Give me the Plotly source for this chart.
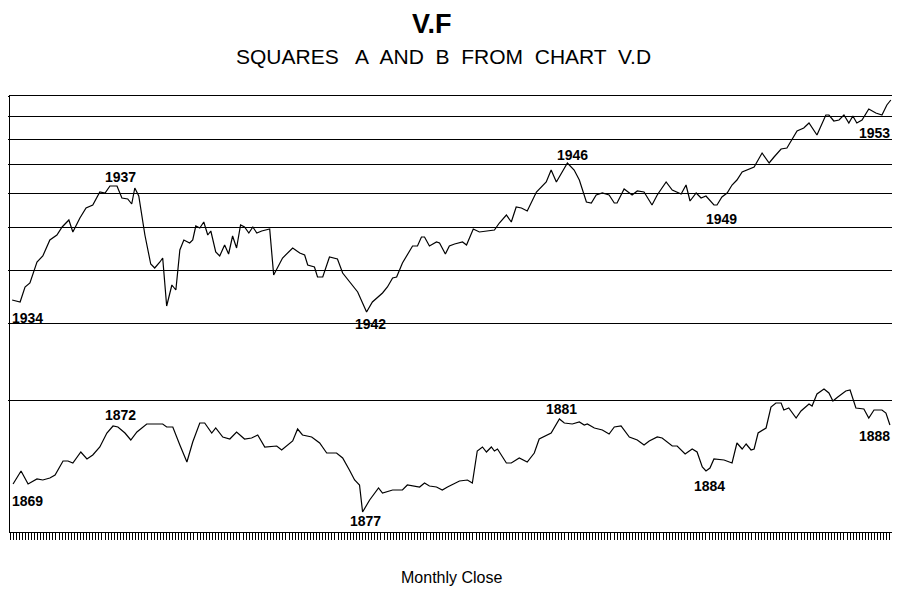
import plotly.graph_objects as go

# months from start of the square, and monthly close in chart units
months_a = [0.7, 3.3, 4.9, 6.5, 8.8, 10.7, 13, 15.3, 17, 19.2, 20.5, 22.8, 24.8, 27, 29.3, 31, 32.6, 34.9, 36.5, 38.4,
            39.7, 40.7, 42, 44, 45.9, 47.2, 48.9, 49.8, 51.1, 52.8, 54.1, 55.4, 56.7, 58.6, 59.6, 60.6, 61.9, 63.2, 64.5, 65.5,
            67.1, 68.4, 70, 71.3, 72.6, 73.9, 75.2, 76.5, 77.9, 79.2, 80.5, 82.1, 84.7, 86, 88.9, 92.2, 94.5, 96.1, 97.1, 99.3,
            100.3, 102, 104.2, 106.8, 108.5, 110.7, 113.4, 116.3, 118.2, 121.5, 123.1, 124.8, 126.1, 128, 131.3, 132.9, 134.2, 135.2, 136.8, 139.1,
            140.1, 142, 143.3, 145, 146.6, 147.6, 148.9, 151.1, 153.1, 156.4, 158, 159.6, 161.9, 163.5, 165.1, 166.8, 168.7, 171.7, 174.9, 176.5,
            178.2, 181.8, 184, 185.7, 188, 189.6, 191.2, 193.2, 195.4, 197.1, 198, 200.3, 202.9, 204.6, 206.8, 209.4, 211.1, 214, 216, 218.9,
            220.5, 221.8, 223.8, 225.4, 227, 229.6, 230.6, 232.2, 233.9, 235.5, 237.1, 238.8, 242.7, 245.3, 247.6, 249.2, 251.5, 253.4, 255, 256.7,
            258.9, 260.6, 263.2, 266.1, 267.1, 268.7, 270.4, 272, 273.6, 274.9, 276.2, 277.9, 280.1, 282.4, 284.4, 286, 287.3]
close_a = [116, 115, 122.5, 124.5, 135, 138, 146, 148.5, 152.5, 156, 150, 157, 162, 163.5, 170, 169.5, 173, 173, 167, 166.5,
           164, 172, 168, 148.5, 134, 132, 135, 137, 113, 123.5, 121, 141, 146, 144.5, 146, 153, 152, 155, 148.5, 150.5,
           140, 138, 143.5, 139, 148, 142, 153.5, 152.5, 149.5, 152.5, 149.5, 150.5, 151.5, 128.5, 137, 142, 139.5, 138.5, 133.5, 132.5,
           127.5, 127.5, 137.5, 136.5, 129.5, 125, 120, 110, 115, 119.5, 122.5, 127, 127.5, 134.5, 143, 143, 147.5, 147.5, 143, 145,
           144.5, 139, 143, 144, 144.5, 145, 143.5, 151.5, 150, 150.5, 151, 154.5, 158.5, 155, 162.5, 162, 160.5, 170, 175, 181,
           175, 184.5, 181, 176, 165, 164.5, 168.5, 169.5, 168.5, 164.5, 164.5, 171.5, 168.5, 170.5, 170, 163.5, 168.5, 175, 171, 169,
           173.5, 165.5, 169.5, 167, 168, 163.5, 163.5, 167.5, 169.5, 173.5, 176, 180, 182.5, 189.5, 184.5, 187.5, 191.5, 192, 196, 200.5,
           202, 204.5, 198.5, 208.5, 208.5, 205.5, 206, 208.5, 204.5, 208, 204.5, 206, 211.5, 209.5, 208.5, 213.5, 216]

months_b = [1, 3.6, 5.9, 8.8, 10.7, 13, 14.7, 17.3, 18.9, 20.5, 23.1, 25.1, 27, 29.3, 31.6, 33.6, 35.2, 37.5, 39.4, 41.4,
            44.6, 46.6, 49.8, 51.1, 53.1, 55.4, 57.7, 59.6, 61.9, 63.5, 65.8, 67.1, 69.4, 71.7, 73.9, 76.5, 78.8, 80.8, 83.1, 87,
            88.6, 92.2, 93.8, 95.4, 98.4, 101, 103.3, 106.5, 108.5, 110.7, 112.4, 114, 115, 117.3, 120.2, 121.5, 124.8, 128, 129.6, 133.6,
            135.2, 136.8, 139.1, 141, 142.7, 146.6, 149.2, 150.8, 152.4, 154.1, 155.4, 157, 158, 159, 161.9, 163.5, 166.1, 168.7, 171, 172.6,
            176.5, 179.2, 180.8, 183.4, 185.7, 187.3, 188.3, 190.6, 193.2, 195.4, 197.1, 199.3, 202, 204.6, 206.8, 208.5, 211.1, 212.7, 216, 217.6,
            220.2, 222.5, 224.1, 225.8, 227, 228.3, 229.6, 232.9, 235.5, 237.1, 238.8, 240.1, 241.7, 242.7, 244, 246.6, 248.2, 249.8, 251.5, 252.4,
            254, 256.4, 258, 260.6, 261.6, 263.2, 265.5, 267.1, 268.4, 270, 272.6, 274, 275.9, 278.5, 280.1, 281.8, 284.4, 285.7, 287]
close_b = [24, 30.5, 24, 26.5, 26, 27, 28.5, 35.5, 35.5, 34.5, 40, 36.5, 38.5, 42.5, 49.5, 53, 52.5, 49.5, 46, 50,
           54, 54, 54, 52.5, 52.5, 43.5, 35, 45, 54.5, 54.5, 49.5, 52, 47.5, 46.5, 50, 46.5, 47, 48.5, 42.5, 43,
           41, 45.5, 51.5, 48.5, 47.5, 44.5, 39.5, 39.5, 37, 31, 26, 23.5, 10, 16, 22, 19.5, 21, 21, 23.5, 22.5,
           24.5, 23, 22.5, 21, 22.5, 25.5, 26, 24.5, 40.5, 42.5, 40, 42.5, 40.5, 41.5, 34.5, 34.5, 37, 35, 39.5, 46.5,
           49.5, 56.5, 54.5, 54, 55, 53.5, 54, 52, 51, 49, 52.5, 53, 47.5, 46, 43.5, 45.5, 47.5, 47, 43, 43,
           39, 41.5, 40, 32.5, 30.5, 32, 36.5, 36, 34.5, 44.5, 41.5, 44, 41, 41.5, 49.5, 52, 62.5, 64.5, 64.5, 61,
           62, 57, 60.5, 64, 63, 69, 71.5, 69.5, 65.5, 67.5, 70.5, 71, 62, 61.5, 57, 61, 61, 59.5, 53.5]

levels = [66, 104.5, 131, 152.5, 169.5, 184, 196.5, 208, 218]

year_labels = ["1934", "1937", "1942", "1946", "1949", "1953", "1869", "1872", "1877", "1881", "1884", "1888"]
label_months = [0, 35.9, 117.6, 183.4, 232, 282, 0, 35.9, 116, 179.8, 228.3, 282]
label_values = [107, 177.5, 104, 188.5, 156.5, 199.5, 15.5, 58.5, 5.5, 61.5, 23, 48]

fig = go.Figure()
for xs, ys in [(months_a, close_a), (months_b, close_b)]:
    fig.add_trace(go.Scatter(x=xs, y=ys, mode="lines", line=dict(color="black", width=1.2), hoverinfo="skip"))

for lab, m, v in zip(year_labels, label_months, label_values):
    fig.add_annotation(x=m, y=v, text="<b>" + lab + "</b>", showarrow=False,
                       xanchor="left" if m == 0 else "center",
                       font=dict(size=14, color="black"))

fig.add_annotation(x=0.5, y=1, xref="paper", yref="paper", yanchor="middle", yshift=72, xshift=-20,
                   text="<b>V.F</b>", showarrow=False, font=dict(size=27, color="black"))
fig.add_annotation(x=0.5, y=1, xref="paper", yref="paper", yanchor="middle", yshift=40, xshift=-8,
                   text="SQUARES&nbsp;&nbsp; A &nbsp;AND &nbsp;B&nbsp; FROM&nbsp; CHART &nbsp;V.D",
                   showarrow=False, font=dict(size=21, color="black"))
fig.add_annotation(x=0.5, y=0, xref="paper", yref="paper", yanchor="middle", yshift=-45, text="Monthly Close",
                   showarrow=False, font=dict(size=16, color="black"))

# page body has an 8px margin, so the figure is a bit smaller than the window
fig.update_layout(
    width=892, height=582, showlegend=False,
    margin=dict(l=2, r=7, t=88, b=58),
    plot_bgcolor="white", paper_bgcolor="white",
    font=dict(family="Liberation Sans, Arial, sans-serif"),
)
fig.update_xaxes(range=[0, 288], showgrid=False, zeroline=False, showline=True, linecolor="black", mirror=True,
                 tickmode="linear", tick0=0, dtick=1, ticks="outside", ticklen=7, tickcolor="black", tickwidth=1,
                 showticklabels=False, automargin=False)
fig.update_yaxes(range=[0, 218], tickvals=levels, showgrid=True, gridcolor="black", gridwidth=1, zeroline=False,
                 showline=True, linecolor="black", mirror=True, ticks="outside", ticklen=4, tickcolor="black",
                 showticklabels=False, automargin=False)

fig.write_html("out.html")
